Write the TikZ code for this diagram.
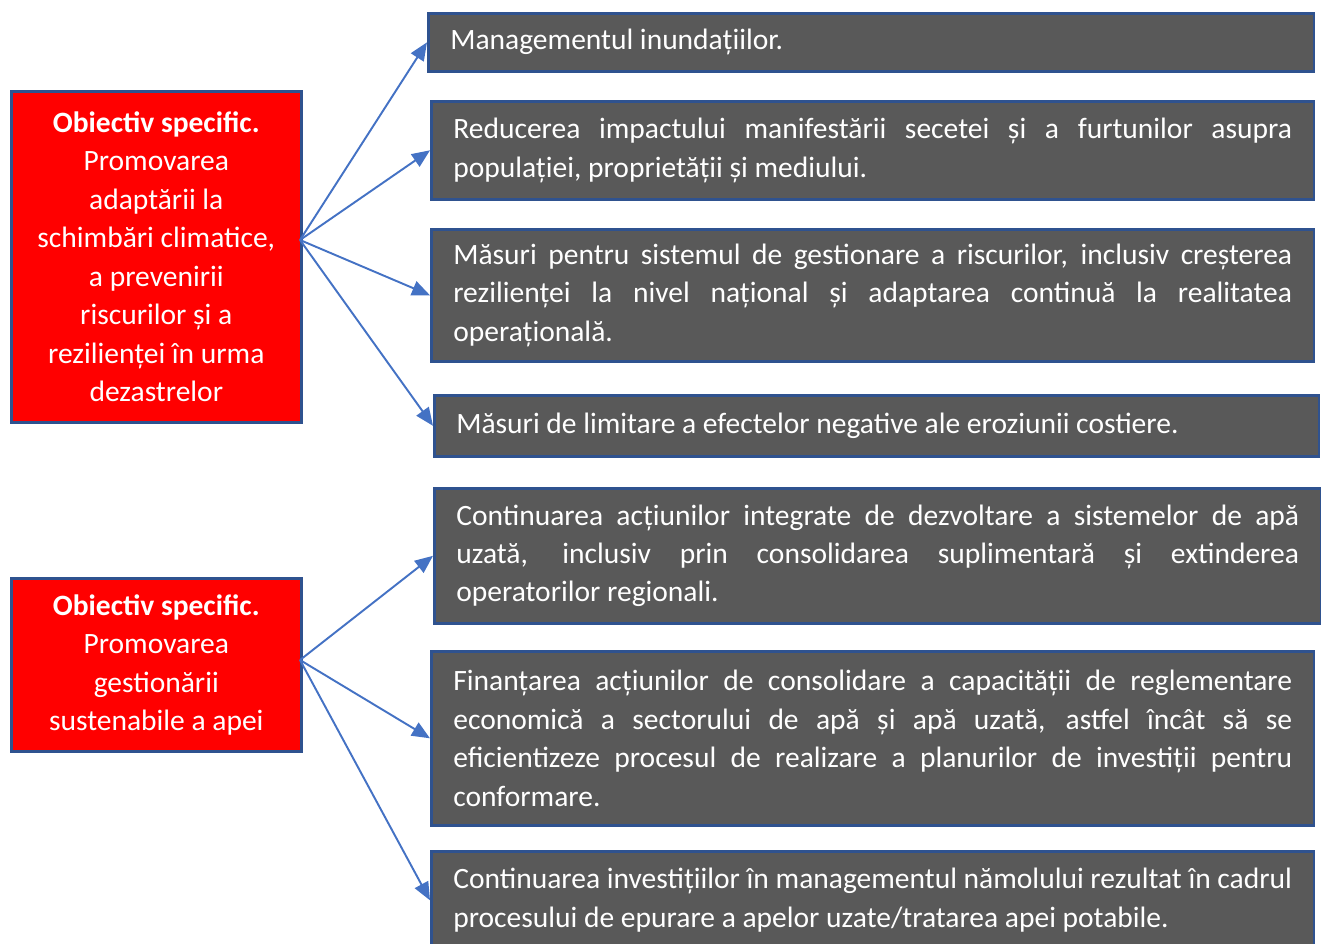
\documentclass[tikz,border=0pt]{standalone}
\usepackage{fontspec}
\setmainfont{Carlito}
\definecolor{objred}{RGB}{255, 0, 0}
\definecolor{edgeblue}{RGB}{47, 82, 143}
\definecolor{arrowblue}{RGB}{68, 114, 196}
\definecolor{boxgray}{RGB}{89, 89, 89}
\usetikzlibrary{arrows.meta, positioning, calc}

\begin{document}
\begin{tikzpicture}[x=0.02cm, y=-0.02cm,
  objbox/.style={draw=edgeblue, fill=objred, line width=1.5pt, anchor=north west, text=white, align=flush center, inner sep=0pt, font={\fontsize{16.8}{21.9}\selectfont}},
  measbox/.style={draw=edgeblue, fill=boxgray, line width=1.5pt, anchor=north west, text=white, align=justify, inner xsep=0.44cm, inner ysep=0pt, font={\fontsize{16.8}{21.9}\selectfont}},
  link/.style={draw=arrowblue, line width=1.1pt, -{Triangle[length=0.36cm, width=0.3cm]}}]
  \useasboundingbox (0,0) rectangle (1321,943);

  % first objective
  \node[objbox, text width=5.8cm, minimum height=6.62cm] (obj1) at (10,90) {
    \textbf{Obiectiv specific.}\\
    Promovarea\\
    adaptării la\\
    schimbări climatice,\\
    a prevenirii\\
    riscurilor și a\\
    rezilienței în urma\\
    dezastrelor
  };

  % second objective
  \node[objbox, text width=5.8cm, minimum height=3.46cm] (obj2) at (10,577) {
    \textbf{Obiectiv specific.}\\
    Promovarea\\
    gestionării\\
    sustenabile a apei
  };

  % measures, first objective
  \node[measbox, text width=16.84cm, minimum height=1.16cm] (m1) at (427,12) {Managementul inundațiilor.};
  \node[measbox, text width=16.78cm, minimum height=1.96cm] (m2) at (430,100) {Reducerea impactului manifestării secetei și a furtunilor asupra\linebreak populației, proprietății și mediului.};
  \node[measbox, text width=16.78cm, minimum height=2.64cm] (m3) at (430,228) {Măsuri pentru sistemul de gestionare a riscurilor, inclusiv creșterea\linebreak rezilienței la nivel național și adaptarea continuă la realitatea\linebreak operațională.};
  \node[measbox, text width=16.82cm, minimum height=1.22cm] (m4) at (433,394) {Măsuri de limitare a efectelor negative ale eroziunii costiere.};

  % measures, second objective
  \node[measbox, text width=16.86cm, minimum height=2.7cm] (m5) at (433,487) {Continuarea acțiunilor integrate de dezvoltare a sistemelor de apă\linebreak uzată, inclusiv prin consolidarea suplimentară și extinderea\linebreak operatorilor regionali.};
  \node[measbox, text width=16.78cm, minimum height=3.48cm] (m6) at (430,650) {Finanțarea acțiunilor de consolidare a capacității de reglementare\linebreak economică a sectorului de apă și apă uzată, astfel încât să se\linebreak eficientizeze procesul de realizare a planurilor de investiții pentru\linebreak conformare.};
  \node[measbox, text width=16.78cm, minimum height=1.96cm] (m7) at (430,850) {Continuarea investițiilor în managementul nămolului rezultat în cadrul\linebreak procesului de epurare a apelor uzate/tratarea apei potabile.};

  % connectors
  \coordinate (fork1) at (300,240);
  \coordinate (fork2) at (300,660);
  \foreach \m in {m1,m2,m3,m4}
    \draw[link] (fork1) -- (\m.west);
  \foreach \m in {m5,m6,m7}
    \draw[link] (fork2) -- (\m.west);
\end{tikzpicture}
\end{document}
